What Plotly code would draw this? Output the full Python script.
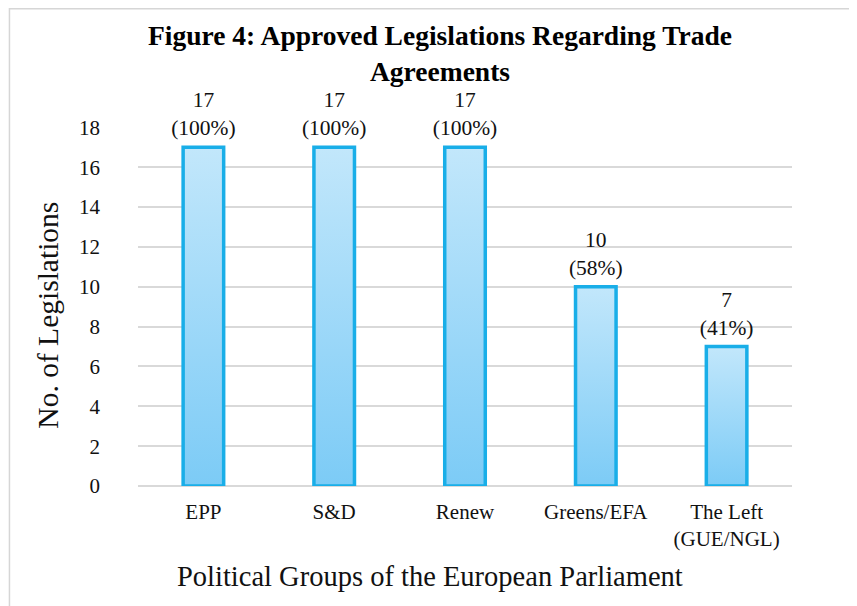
import plotly.graph_objects as go

categories = ["EPP", "S&D", "Renew", "Greens/EFA", "The Left<br>(GUE/NGL)"]
approved = [17, 17, 17, 10, 7]
percent = [100, 100, 100, 58, 41]
y_ticks = [0, 2, 4, 6, 8, 10, 12, 14, 16, 18]

# page body has an 8px margin, so the figure is sized/offset accordingly
W, H = 849, 598
ML, MR, MT, MB = 129.5, 64.5, 119, 120
FONT = "Liberation Serif, Times New Roman, serif"
BAR_W = 0.31
EDGE = "#19aee8"
TOP_C = "#c2e7fb"
BOT_C = "#7ccbf6"

fig = go.Figure()
for i, v in enumerate(approved):
    x0, x1 = i - BAR_W / 2, i + BAR_W / 2
    fig.add_trace(go.Scatter(
        x=[x0, x1, x1, x0, x0], y=[0, 0, v, v, 0],
        mode="lines", fill="toself",
        fillgradient=dict(type="vertical", colorscale=[[0, BOT_C], [1, TOP_C]], start=0, stop=v),
        line=dict(color=EDGE, width=3.5),
        hoverinfo="skip", showlegend=False,
    ))

fig.add_trace(go.Scatter(
    x=list(range(len(approved))), y=approved,
    mode="markers+text",
    marker=dict(size=9, opacity=0),
    text=[f"{v}<br>({p}%)" for v, p in zip(approved, percent)],
    textposition="top center",
    textfont=dict(family=FONT, size=21.5, color="#111111"),
    cliponaxis=False,
    hoverinfo="skip", showlegend=False,
))

pw = W - ML - MR
ph = H - MT - MB

fig.update_layout(
    width=W, height=H,
    margin=dict(l=ML, r=MR, t=MT, b=MB),
    paper_bgcolor="white", plot_bgcolor="white",
    font=dict(family=FONT, color="#111111"),
    title=dict(
        text="<b>Figure 4: Approved Legislations Regarding Trade<br>Agreements</b>",
        x=432 / W, xanchor="center", xref="container",
        y=1 - 37 / H, yanchor="middle", yref="container",
        font=dict(family=FONT, size=27.5, color="#000000"),
    ),
    xaxis=dict(
        range=[-0.5, len(categories) - 0.5],
        tickmode="array", tickvals=list(range(len(categories))), ticktext=categories,
        showgrid=False, zeroline=False, showline=False, ticks="",
        tickfont=dict(family=FONT, size=21, color="#111111"),
        ticklabelstandoff=11,
    ),
    yaxis=dict(
        range=[0, 18.02],
        tickmode="array", tickvals=y_ticks,
        showgrid=True, gridcolor="#d9d9d9", gridwidth=1.5,
        zeroline=True, zerolinecolor="#d9d9d9", zerolinewidth=1.5,
        showline=False, ticks="",
        tickfont=dict(family=FONT, size=21, color="#111111"),
        ticklabelstandoff=37,
    ),
    annotations=[
        dict(
            text="Political Groups of the European Parliament",
            xref="paper", yref="paper",
            x=(422 - ML) / pw, y=(H - MB - 568) / ph,
            xanchor="center", yanchor="middle", showarrow=False,
            font=dict(family=FONT, size=28.5, color="#111111"),
        ),
        dict(
            text="No. of Legislations", textangle=-90,
            xref="paper", yref="paper",
            x=(39 - ML) / pw, y=(H - MB - 307) / ph,
            xanchor="center", yanchor="middle", showarrow=False,
            font=dict(family=FONT, size=29.5, color="#111111"),
        ),
    ],
    shapes=[dict(
        type="rect", xref="paper", yref="paper",
        x0=(0.75 - ML) / pw, x1=(W + 20 - ML) / pw,
        y0=(H - MB - (H + 20)) / ph, y1=(H - MB - 0.75) / ph,
        line=dict(color="#d6d6d6", width=1.5), fillcolor="rgba(0,0,0,0)", layer="below",
    )],
)

fig.write_html("out.html")
